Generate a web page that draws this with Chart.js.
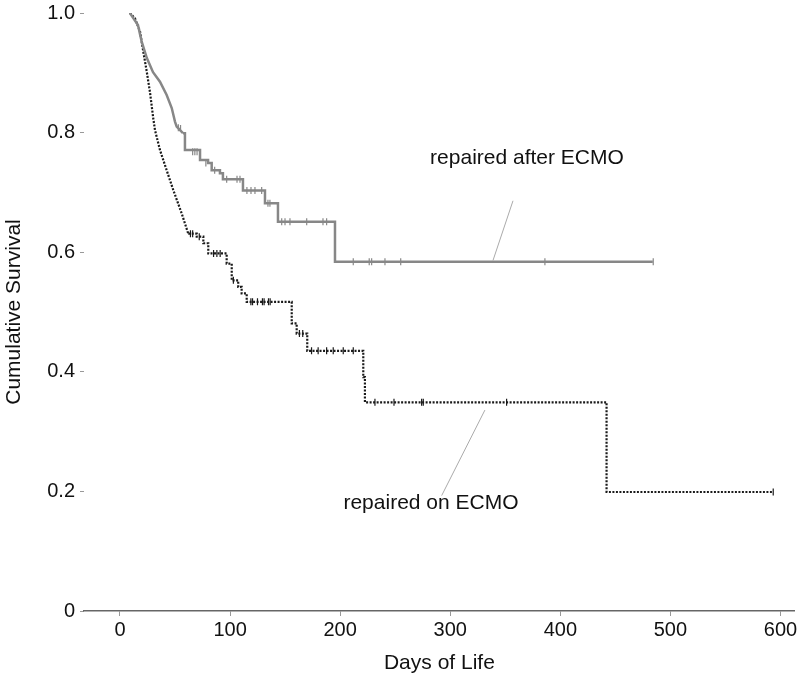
<!DOCTYPE html>
<html>
<head>
<meta charset="utf-8">
<title>Cumulative Survival</title>
<script src="https://cdn.jsdelivr.net/npm/chart.js@4.4.1/dist/chart.umd.min.js"></script>
<style>
    html, body { margin: 0; padding: 0; background: #fff; }
    #survivalChart { display: block; }
</style>
</head>
<body>
<canvas id="survivalChart" width="800" height="682"></canvas>
<script>
// Kaplan-Meier steps: day of event, survival after the event
const afterDays = [9, 16.3, 19.7, 24.3, 30, 36.3, 42.4, 47, 50, 51.5, 57.2, 59, 72.7, 80, 83.3, 90.8, 93.5, 111.7, 131.7, 143.5, 195.3, 484];
const afterSurv = [1.0, 0.980, 0.952, 0.925, 0.901, 0.885, 0.863, 0.841, 0.818, 0.810, 0.799, 0.771, 0.754, 0.749, 0.737, 0.732, 0.722, 0.703, 0.682, 0.651, 0.584, 0.584];

const onDays = [9, 13.6, 18.2, 21.2, 24.3, 27.2, 30.2, 31.8, 36.3, 42.4, 48.4, 56, 62, 69.7, 75.7, 80.2, 96.9, 101.5, 107.4, 110.5, 115.1, 156, 160.5, 170.1, 221, 222.5, 442, 593.4];
const onSurv = [1.0, 0.991, 0.969, 0.935, 0.902, 0.868, 0.824, 0.804, 0.771, 0.737, 0.704, 0.665, 0.631, 0.626, 0.615, 0.598, 0.581, 0.553, 0.542, 0.531, 0.517, 0.481, 0.464, 0.435, 0.391, 0.349, 0.199, 0.199];

// the early part is a dense run of tiny steps, drawn as a traced line up to this index
const afterDenseEnd = 10;
const onDenseEnd = 12;

// censored observations
const afterCensDays = [53, 55, 66, 68, 70, 78, 86, 96.9, 106.3, 109, 115.3, 119, 122.6, 128.7, 134.4, 136.2, 146.9, 149.9, 154.4, 169.6, 184.4, 187.7, 211.9, 226.4, 228.6, 240.7, 255, 386, 484.4];
const afterCensSurv = [0.808, 0.807, 0.768, 0.768, 0.768, 0.749, 0.737, 0.722, 0.722, 0.722, 0.703, 0.703, 0.703, 0.703, 0.682, 0.682, 0.651, 0.651, 0.651, 0.651, 0.651, 0.651, 0.584, 0.584, 0.584, 0.584, 0.584, 0.584, 0.584];

const onCensDays = [64, 66, 72, 85, 88, 91, 103, 118.9, 120.4, 124.9, 129.4, 130.9, 134.9, 136.4, 163, 166, 174, 180, 187.7, 193.7, 202.8, 211.9, 231.6, 248.9, 274, 275.5, 351.2, 593.4];
const onCensSurv = [0.631, 0.631, 0.626, 0.598, 0.598, 0.598, 0.553, 0.517, 0.517, 0.517, 0.517, 0.517, 0.517, 0.517, 0.464, 0.464, 0.435, 0.435, 0.435, 0.435, 0.435, 0.435, 0.349, 0.349, 0.349, 0.349, 0.349, 0.199];

const xTicks = [0, 100, 200, 300, 400, 500, 600];
const yTicks = [0, 0.2, 0.4, 0.6, 0.8, 1.0];

const FONT = '"Liberation Sans", Arial, sans-serif';
const GREY = '#878787';
const DARK = '#1a1a1a';

function toPoints(xs, ys, from, to) {
    const pts = xs.map((x, i) => ({ x: x, y: ys[i] }));
    return pts.slice(from, to);
}

// labels with leader lines, placed in data units
const curveLabels = [
    { text: 'repaired after ECMO', at: [369.7, 0.757], from: [357, 0.686], to: [338.8, 0.586] },
    { text: 'repaired on ECMO', at: [282.5, 0.180], from: [292.2, 0.193], to: [331.5, 0.336] }
];

const labelPlugin = {
    id: 'curveLabels',
    afterDatasetsDraw(chart) {
        const ctx = chart.ctx;
        const xs = chart.scales.x;
        const ys = chart.scales.y;
        ctx.save();
        curveLabels.forEach(l => {
            ctx.strokeStyle = '#aaaaaa';
            ctx.lineWidth = 1;
            ctx.beginPath();
            ctx.moveTo(xs.getPixelForValue(l.from[0]), ys.getPixelForValue(l.from[1]));
            ctx.lineTo(xs.getPixelForValue(l.to[0]), ys.getPixelForValue(l.to[1]));
            ctx.stroke();
            ctx.fillStyle = '#111';
            ctx.font = '21px ' + FONT;
            ctx.textAlign = 'center';
            ctx.textBaseline = 'middle';
            ctx.fillText(l.text, xs.getPixelForValue(l.at[0]), ys.getPixelForValue(l.at[1]));
        });
        ctx.restore();
    }
};

function curve(label, data, color, width, dash, stepped) {
    return {
        label: label,
        data: data,
        stepped: stepped,
        borderColor: color,
        borderWidth: width,
        borderDash: dash,
        pointRadius: 0,
        fill: false
    };
}

function censored(label, data, color) {
    return {
        label: label,
        type: 'scatter',
        data: data,
        showLine: false,
        pointStyle: 'line',
        rotation: 90,
        pointRadius: 3.5,
        pointBorderWidth: 1.2,
        borderColor: color,
        backgroundColor: color
    };
}

new Chart(document.getElementById('survivalChart').getContext('2d'), {
    type: 'line',
    data: {
        datasets: [
            curve('repaired after ECMO', toPoints(afterDays, afterSurv, 0, afterDenseEnd + 1), GREY, 2.5, [], false),
            curve('repaired after ECMO', toPoints(afterDays, afterSurv, afterDenseEnd), GREY, 2.5, [], 'before'),
            curve('repaired on ECMO', toPoints(onDays, onSurv, 0, onDenseEnd + 1), DARK, 2.2, [2, 1.5], false),
            curve('repaired on ECMO', toPoints(onDays, onSurv, onDenseEnd), DARK, 2.2, [2, 1.5], 'before'),
            censored('censored after', toPoints(afterCensDays, afterCensSurv), GREY),
            censored('censored on', toPoints(onCensDays, onCensSurv), DARK)
        ]
    },
    options: {
        responsive: false,
        animation: false,
        layout: {
            padding: { top: 13, right: 0, bottom: 0, left: 0 }
        },
        plugins: {
            legend: { display: false },
            tooltip: { enabled: false }
        },
        scales: {
            x: {
                type: 'linear',
                min: -32.7,
                max: 613,
                afterFit: function(scale) { scale.height = 71; },
                afterBuildTicks: function(scale) {
                    scale.ticks = xTicks.map(v => ({ value: v }));
                },
                border: { display: true, color: '#666', width: 1.5 },
                grid: {
                    drawOnChartArea: false,
                    tickLength: 5,
                    color: '#999'
                },
                ticks: {
                    color: '#111',
                    padding: 2,
                    font: { family: FONT, size: 20 }
                },
                title: {
                    display: true,
                    text: 'Days of Life',
                    color: '#111',
                    padding: { top: 0, bottom: 6 },
                    font: { family: FONT, size: 21 }
                }
            },
            y: {
                type: 'linear',
                min: 0,
                max: 1,
                afterFit: function(scale) {
                    scale.width = 84;
                    scale.paddingTop = 0;
                },
                afterBuildTicks: function(scale) {
                    scale.ticks = yTicks.map(v => ({ value: v }));
                },
                border: { display: false },
                grid: {
                    drawOnChartArea: false,
                    tickLength: 4,
                    color: '#999'
                },
                ticks: {
                    color: '#111',
                    padding: 5,
                    font: { family: FONT, size: 20 },
                    callback: function(value) {
                        return value === 0 ? '0' : value.toFixed(1);
                    }
                },
                title: {
                    display: true,
                    text: 'Cumulative Survival',
                    color: '#111',
                    padding: { top: 2, bottom: 0 },
                    font: { family: FONT, size: 21 }
                }
            }
        }
    },
    plugins: [labelPlugin]
});
</script>
</body>
</html>
